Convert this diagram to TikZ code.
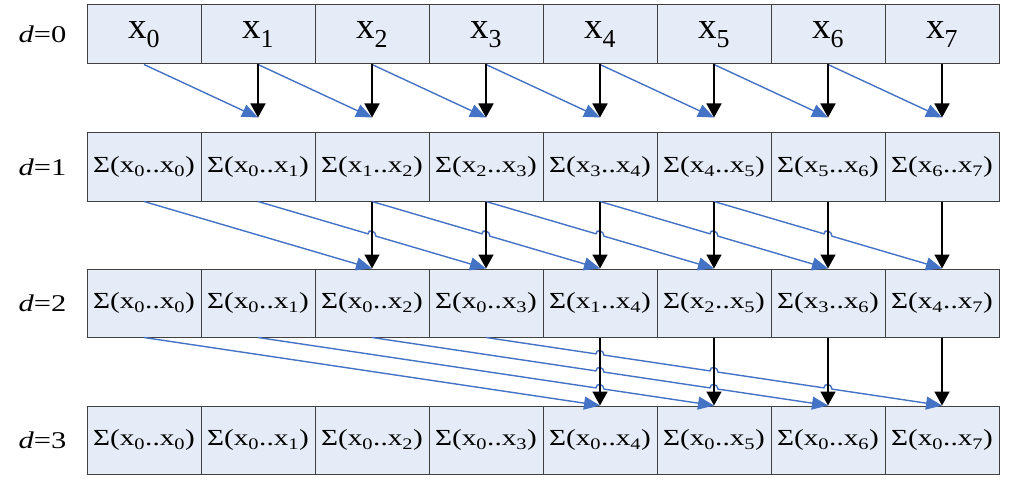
\documentclass[tikz,border=0pt]{standalone}
\usepackage{fontspec}
\setmainfont{Liberation Serif}[FakeStretch=1.27]
\newfontfamily\plainserif{Liberation Serif}
\usepackage{tikz}
\usetikzlibrary{arrows.meta,positioning,calc}

\definecolor{cellfill}{HTML}{E6ECF7}
\definecolor{sumblue}{HTML}{4472C4}
\newcommand{\xv}[1]{x\textsubscript{#1}}
\newcommand{\psum}[2]{Σ(\xv{#1}..\xv{#2})}

\begin{document}
\begin{tikzpicture}[x=1pt, y=1pt,
  cell/.style={draw=black!75, line width=1pt, fill=cellfill, inner sep=0pt,
    minimum width=114pt, minimum height=68pt, font=\fontsize{23}{27}\selectfont},
  topcell/.style={cell, minimum height=59pt, font=\plainserif\fontsize{37}{42}\selectfont},
  level/.style={inner sep=0pt, font=\fontsize{24}{28}\selectfont},
  sumline/.style={draw=sumblue, line width=1.4pt, -{Triangle[length=16pt,width=13pt]}},
  copyline/.style={draw=black, line width=1.6pt, -{Triangle[length=14pt,width=15pt]}}]
\useasboundingbox (0,0) rectangle (1033,-492);

% the four rows
\foreach \i in {0,...,7}
  \node[topcell] (r0-\i) at (144+114*\i,-34.5) {\xv{\i}};
\foreach \i in {0,...,7}{
  \pgfmathtruncatemacro\lo{max(\i-1,0)}
  \node[cell] (r1-\i) at (144+114*\i,-167) {\psum{\lo}{\i}};
  \pgfmathtruncatemacro\lo{max(\i-3,0)}
  \node[cell] (r2-\i) at (144+114*\i,-303) {\psum{\lo}{\i}};
  \node[cell] (r3-\i) at (144+114*\i,-440) {\psum{0}{\i}};
}
\foreach \d in {0,...,3}
  \node[level, left=20pt of r\d-0] (lab\d) {\textit{d}=\d};

% d=0 -> d=1
\foreach \i [evaluate=\i as \j using int(\i+1)] in {0,...,6}
  \draw[sumline] (r0-\i.south) -- ([yshift=15pt]r1-\j.north);
\foreach \i in {1,...,7}
  \draw[copyline] (r0-\i.south) -- ([yshift=15pt]r1-\i.north);

% d=1 -> d=2
\draw[sumline] (r1-0.south) -- (r2-2.north);
\foreach \i [evaluate=\i as \j using int(\i+2)] in {1,...,5}
  \draw[sumline] (r1-\i.south) -- ($(r1-\i.south)!.4825!(r2-\j.north)$)
    .. controls +(0,5.3) and +(0,5.3) .. ($(r1-\i.south)!.5175!(r2-\j.north)$)
    -- (r2-\j.north);
\foreach \i in {2,...,7}
  \draw[copyline] (r1-\i.south) -- (r2-\i.north);

% d=2 -> d=3
\draw[sumline] (r2-0.south) -- (r3-4.north);
\coordinate (a) at (r2-1.south);
\coordinate (b) at (r3-5.north);
\draw[sumline] (a) -- ($(a)!.7412!(b)$)
  .. controls +(0,5.3) and +(0,5.3) .. ($(a)!.7588!(b)$) -- (b);
\coordinate (a) at (r2-2.south);
\coordinate (b) at (r3-6.north);
\draw[sumline] (a) -- ($(a)!.4912!(b)$)
  .. controls +(0,5.3) and +(0,5.3) .. ($(a)!.5088!(b)$) -- ($(a)!.7412!(b)$)
  .. controls +(0,5.3) and +(0,5.3) .. ($(a)!.7588!(b)$) -- (b);
\coordinate (a) at (r2-3.south);
\coordinate (b) at (r3-7.north);
\draw[sumline] (a) -- ($(a)!.2412!(b)$)
  .. controls +(0,5.3) and +(0,5.3) .. ($(a)!.2588!(b)$) -- ($(a)!.4912!(b)$)
  .. controls +(0,5.3) and +(0,5.3) .. ($(a)!.5088!(b)$) -- ($(a)!.7412!(b)$)
  .. controls +(0,5.3) and +(0,5.3) .. ($(a)!.7588!(b)$) -- (b);
\foreach \i in {4,...,7}
  \draw[copyline] (r2-\i.south) -- (r3-\i.north);
\end{tikzpicture}
\end{document}
